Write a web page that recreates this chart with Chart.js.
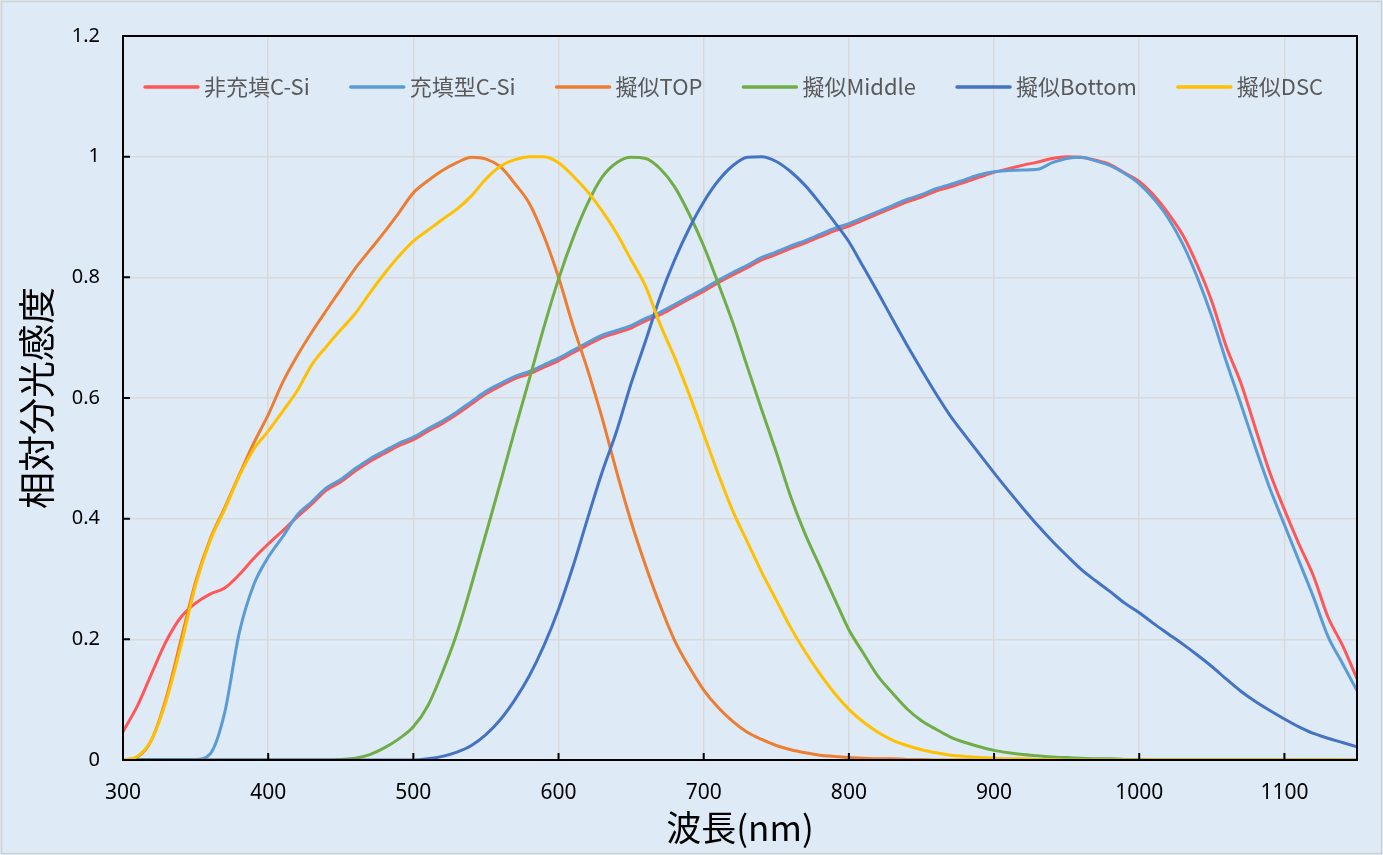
<!DOCTYPE html>
<html>
<head>
<meta charset="utf-8">
<script src="https://cdn.jsdelivr.net/npm/chart.js@4.4.1/dist/chart.umd.min.js"></script>
<style>
    html, body { margin: 0; padding: 0; background: #fff; }
    #wrap { width: 1383px; height: 855px; }
</style>
</head>
<body>
<div id="wrap"><canvas id="spectrumChart"></canvas></div>
<script>
const wavelengths = [300, 310, 320, 330, 340, 350, 360, 370, 380, 390,
    400, 410, 420, 430, 440, 450, 460, 470, 480, 490,
    500, 510, 520, 530, 540, 550, 560, 570, 580, 590,
    600, 610, 620, 630, 640, 650, 660, 670, 680, 690,
    700, 710, 720, 730, 740, 750, 760, 770, 780, 790,
    800, 810, 820, 830, 840, 850, 860, 870, 880, 890,
    900, 910, 920, 930, 940, 950, 960, 970, 980, 990,
    1000, 1010, 1020, 1030, 1040, 1050, 1060, 1070, 1080, 1090,
    1100, 1110, 1120, 1130, 1140, 1150];

// 非充填C-Si
const nonFilledCSi = [0.047, 0.09, 0.145, 0.198, 0.237, 0.26, 0.275, 0.285, 0.307, 0.334,
    0.358, 0.38, 0.403, 0.424, 0.447, 0.461, 0.479, 0.495, 0.508, 0.521,
    0.531, 0.545, 0.558, 0.573, 0.59, 0.607, 0.62, 0.632, 0.64, 0.651,
    0.662, 0.675, 0.688, 0.7, 0.708, 0.716, 0.728, 0.738, 0.751, 0.764,
    0.777, 0.791, 0.804, 0.816, 0.829, 0.838, 0.848, 0.857, 0.867, 0.877,
    0.885, 0.895, 0.905, 0.915, 0.925, 0.933, 0.943, 0.95, 0.958, 0.966,
    0.974, 0.98, 0.986, 0.991, 0.997, 1.0, 0.999, 0.994, 0.987, 0.973,
    0.959, 0.936, 0.906, 0.87, 0.82, 0.76, 0.685, 0.625, 0.55, 0.476,
    0.415, 0.358, 0.305, 0.237, 0.19, 0.135];

// 充填型C-Si
const filledCSi = [0.001, 0.001, 0.001, 0.001, 0.001, 0.001, 0.01, 0.078, 0.21, 0.29,
    0.336, 0.37, 0.406, 0.428, 0.451, 0.465, 0.483, 0.499, 0.512, 0.525,
    0.535, 0.549, 0.562, 0.577, 0.594, 0.611, 0.624, 0.636, 0.644, 0.655,
    0.666, 0.679, 0.692, 0.704, 0.712, 0.72, 0.732, 0.742, 0.755, 0.768,
    0.781, 0.795, 0.808, 0.82, 0.833, 0.842, 0.852, 0.861, 0.871, 0.881,
    0.889, 0.899, 0.909, 0.919, 0.929, 0.937, 0.947, 0.954, 0.962, 0.97,
    0.975, 0.977, 0.978, 0.979, 0.99, 0.997, 0.999, 0.993, 0.985, 0.972,
    0.955, 0.93, 0.898, 0.855, 0.8, 0.735, 0.66, 0.59, 0.518, 0.45,
    0.39, 0.33, 0.27, 0.205, 0.16, 0.115];

// 擬似TOP
const pseudoTop = [0, 0.005, 0.035, 0.105, 0.2, 0.295, 0.366, 0.418, 0.472, 0.525,
    0.572, 0.626, 0.67, 0.709, 0.745, 0.78, 0.815, 0.845, 0.875, 0.907,
    0.94, 0.96, 0.977, 0.99, 0.999, 0.996, 0.983, 0.955, 0.922, 0.868,
    0.8, 0.72, 0.647, 0.567, 0.478, 0.395, 0.322, 0.256, 0.198, 0.154,
    0.116, 0.087, 0.064, 0.046, 0.034, 0.024, 0.017, 0.012, 0.008, 0.006,
    0.004, 0.003, 0.002, 0.002, 0.001, 0.001, 0, 0, 0, 0,
    0, 0, 0, 0, 0, 0, 0, 0, 0, 0,
    0, 0, 0, 0, 0, 0, 0, 0, 0, 0,
    0, 0, 0, 0, 0, 0];

// 擬似Middle
const pseudoMiddle = [0, 0, 0, 0, 0, 0, 0, 0, 0, 0,
    0, 0, 0, 0, 0, 0.001, 0.003, 0.009, 0.02, 0.035,
    0.055, 0.09, 0.145, 0.21, 0.29, 0.375, 0.46, 0.548, 0.632, 0.718,
    0.797, 0.865, 0.922, 0.966, 0.99, 0.999, 0.997, 0.98, 0.95, 0.905,
    0.852, 0.79, 0.725, 0.652, 0.58, 0.51, 0.436, 0.374, 0.321, 0.268,
    0.216, 0.177, 0.139, 0.111, 0.085, 0.065, 0.051, 0.038, 0.029, 0.022,
    0.016, 0.012, 0.009, 0.007, 0.005, 0.004, 0.003, 0.002, 0.002, 0.001,
    0.001, 0, 0, 0, 0, 0, 0, 0, 0, 0,
    0, 0, 0, 0, 0, 0];

// 擬似Bottom
const pseudoBottom = [0, 0, 0, 0, 0, 0, 0, 0, 0, 0,
    0, 0, 0, 0, 0, 0, 0, 0, 0, 0,
    0, 0.002, 0.006, 0.013, 0.024, 0.042, 0.067, 0.1, 0.14, 0.19,
    0.25, 0.321, 0.4, 0.477, 0.545, 0.624, 0.695, 0.768, 0.829, 0.881,
    0.925, 0.96, 0.985, 0.999, 1.0, 0.992, 0.975, 0.952, 0.923, 0.892,
    0.859, 0.817, 0.775, 0.731, 0.688, 0.647, 0.607, 0.57, 0.538, 0.507,
    0.476, 0.446, 0.417, 0.389, 0.363, 0.339, 0.316, 0.297, 0.279, 0.26,
    0.244, 0.226, 0.209, 0.192, 0.174, 0.155, 0.134, 0.114, 0.097, 0.082,
    0.068, 0.055, 0.044, 0.036, 0.029, 0.022];

// 擬似DSC
const pseudoDsc = [0, 0.006, 0.035, 0.1, 0.19, 0.29, 0.363, 0.415, 0.47, 0.515,
    0.545, 0.578, 0.612, 0.655, 0.685, 0.713, 0.74, 0.774, 0.806, 0.835,
    0.86, 0.878, 0.896, 0.913, 0.935, 0.963, 0.984, 0.995, 1.0, 1.0,
    0.99, 0.968, 0.942, 0.91, 0.873, 0.829, 0.785, 0.722, 0.667, 0.606,
    0.54, 0.474, 0.413, 0.362, 0.311, 0.265, 0.219, 0.179, 0.143, 0.111,
    0.084, 0.063, 0.046, 0.033, 0.024, 0.017, 0.012, 0.008, 0.006, 0.004,
    0.003, 0.002, 0.002, 0.001, 0.001, 0, 0, 0, 0, 0,
    0, 0, 0, 0, 0, 0, 0, 0, 0, 0,
    0, 0, 0, 0, 0, 0];

const seriesLabels = ['非充填C-Si', '充填型C-Si', '擬似TOP', '擬似Middle', '擬似Bottom', '擬似DSC'];
const seriesValues = [nonFilledCSi, filledCSi, pseudoTop, pseudoMiddle, pseudoBottom, pseudoDsc];
const seriesColors = ['#ff5757', '#5b9bd5', '#ed7d31', '#70ad47', '#4472c4', '#ffc000'];

const xTickValues = [300, 400, 500, 600, 700, 800, 900, 1000, 1100];
const yTickValues = [0, 0.2, 0.4, 0.6, 0.8, 1.0, 1.2];

const bgPlugin = {
    id: 'bgPlugin',
    beforeDraw(chart) {
        const { ctx, width, height } = chart;
        ctx.save();
        ctx.fillStyle = '#deebf7';
        ctx.fillRect(0, 0, width, height);
        ctx.strokeStyle = '#d0d0d0';
        ctx.lineWidth = 1.5;
        ctx.strokeRect(1.5, 1.5, width - 3, height - 3);
        ctx.restore();
    }
};

// inward tick marks, frame and legend inside the plot
const framePlugin = {
    id: 'framePlugin',
    afterDraw(chart) {
        const { ctx, chartArea } = chart;
        const xs = chart.scales.x;
        const ys = chart.scales.y;
        ctx.save();
        ctx.strokeStyle = '#000';
        ctx.lineWidth = 2;
        ctx.strokeRect(chartArea.left, chartArea.top, chartArea.right - chartArea.left, chartArea.bottom - chartArea.top);
        ctx.beginPath();
        xTickValues.forEach(v => {
            const px = xs.getPixelForValue(v);
            ctx.moveTo(px, chartArea.bottom);
            ctx.lineTo(px, chartArea.bottom - 7);
        });
        yTickValues.forEach(v => {
            const py = ys.getPixelForValue(v);
            ctx.moveTo(chartArea.left, py);
            ctx.lineTo(chartArea.left + 7, py);
        });
        ctx.stroke();

        ctx.font = "22px 'Noto Sans CJK JP'";
        ctx.textBaseline = 'middle';
        ctx.textAlign = 'left';
        ctx.lineCap = 'round';
        const lineLen = 53, gap = 6, itemGap = 41;
        const y = chartArea.top + 51;
        let x = chartArea.left + 22;
        chart.data.datasets.forEach(ds => {
            ctx.strokeStyle = ds.borderColor;
            ctx.lineWidth = 3.5;
            ctx.beginPath();
            ctx.moveTo(x, y);
            ctx.lineTo(x + lineLen, y);
            ctx.stroke();
            ctx.fillStyle = '#595959';
            ctx.fillText(ds.label, x + lineLen + gap, y);
            x += lineLen + gap + ctx.measureText(ds.label).width + itemGap;
        });
        ctx.restore();
    }
};

const datasets = seriesLabels.map((label, i) => ({
    label: label,
    data: wavelengths.map((w, j) => ({ x: w, y: seriesValues[i][j] })),
    borderColor: seriesColors[i],
    backgroundColor: seriesColors[i],
    borderWidth: 3,
    pointRadius: 0,
    cubicInterpolationMode: 'monotone',
    order: seriesLabels.length - i
}));

new Chart(document.getElementById('spectrumChart'), {
    type: 'line',
    data: { datasets: datasets },
    options: {
        responsive: true,
        maintainAspectRatio: false,
        animation: false,
        layout: { padding: { top: 36, right: 26, left: 0, bottom: 0 } },
        plugins: {
            legend: { display: false },
            tooltip: { enabled: false }
        },
        scales: {
            x: {
                type: 'linear',
                min: 300,
                max: 1150,
                afterFit: scale => { scale.height = 95; },
                afterBuildTicks: scale => { scale.ticks = xTickValues.map(v => ({ value: v })); },
                ticks: {
                    padding: 20,
                    color: '#000',
                    font: { family: "'Noto Sans'", size: 21 },
                    maxRotation: 0,
                    callback: v => String(v)
                },
                grid: { color: '#d9d9d9', lineWidth: 1.5, drawTicks: false },
                border: { display: true, color: '#000', width: 2 },
                title: {
                    display: true,
                    text: '波長(nm)',
                    color: '#000',
                    font: { family: "'Noto Sans CJK JP'", size: 35 },
                    padding: { top: 0, bottom: 6 }
                }
            },
            y: {
                min: 0,
                max: 1.2,
                afterFit: scale => { scale.width = 123; },
                afterBuildTicks: scale => { scale.ticks = yTickValues.map(v => ({ value: v })); },
                ticks: {
                    padding: 23,
                    color: '#000',
                    font: { family: "'Noto Sans'", size: 20 },
                    callback: v => String(+Number(v).toFixed(1))
                },
                grid: { color: '#d9d9d9', lineWidth: 1.5, drawTicks: false },
                border: { display: true, color: '#000', width: 2 },
                title: {
                    display: true,
                    text: '相対分光感度',
                    color: '#000',
                    font: { family: "'Noto Sans CJK JP'", size: 37 },
                    padding: { top: 15, bottom: 0 }
                }
            }
        }
    },
    plugins: [bgPlugin, framePlugin]
});
</script>
</body>
</html>
